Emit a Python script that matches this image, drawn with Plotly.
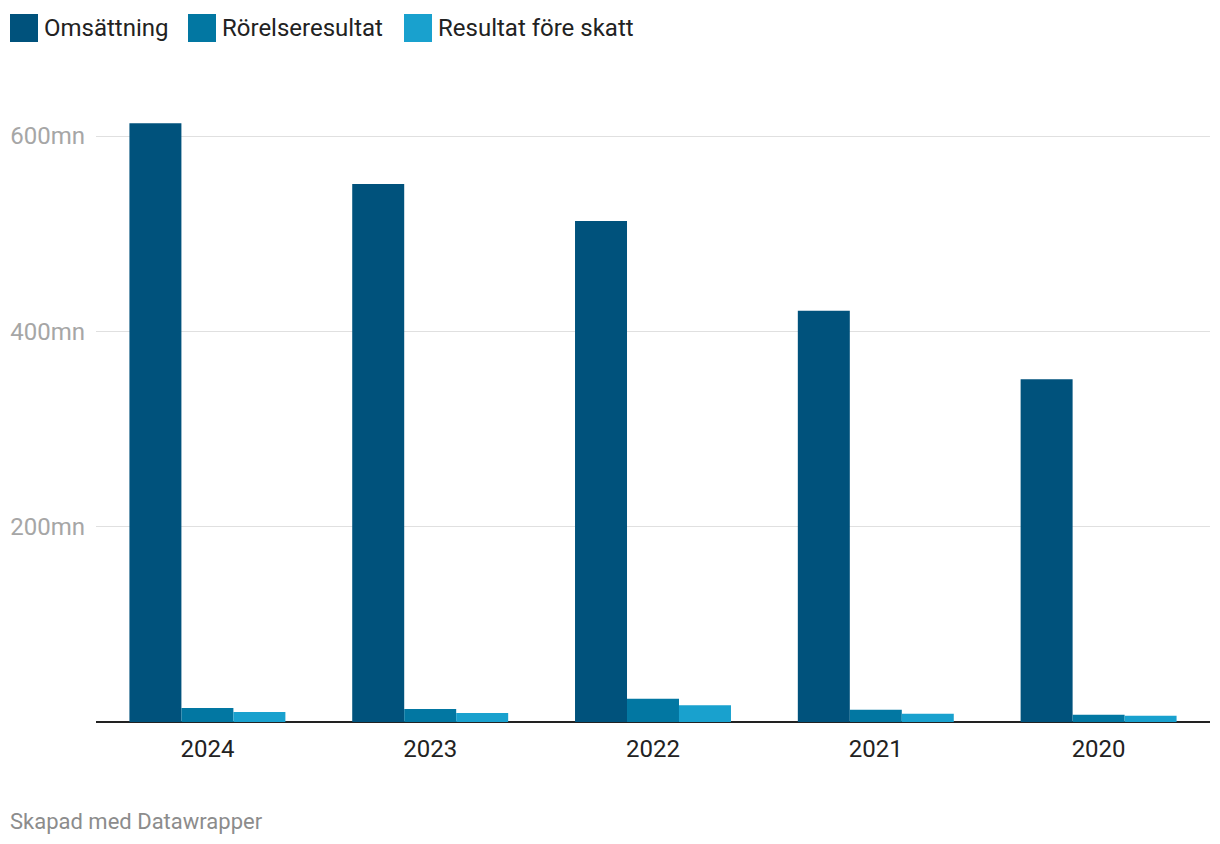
import plotly.graph_objects as go

years = ["2024", "2023", "2022", "2021", "2020"]
series_names = ["Omsättning", "Rörelseresultat", "Resultat före skatt"]
omsattning = [613, 551, 513, 421, 351]
rorelseresultat = [14.3, 13.3, 23.9, 12.6, 7.5]
resultat_fore_skatt = [10.2, 9.2, 17.1, 8.5, 6.5]
colors = ["#00527c", "#0277a2", "#19a1ce"]
y_ticks = [200, 400, 600]
y_tick_labels = ["200mn", "400mn", "600mn"]
footer = "Skapad med Datawrapper"

values = [omsattning, rorelseresultat, resultat_fore_skatt]

fig = go.Figure()
for name, vals, col in zip(series_names, values, colors):
    fig.add_trace(go.Bar(x=years, y=vals, name=name, marker=dict(color=col, line=dict(width=0)),
                         showlegend=False))

# manual legend (large square swatches like Datawrapper)
legend_x = [10, 188, 404]
for name, col, lx in zip(series_names, colors, legend_x):
    fig.add_shape(type="rect", xref="paper", yref="paper",
                  x0=(lx - 96) / 1114, x1=(lx + 28 - 96) / 1114,
                  y0=(722 - 42) / 625, y1=(722 - 14) / 625,
                  fillcolor=col, line=dict(width=0))
    fig.add_annotation(text=name, xref="paper", yref="paper",
                       x=(lx + 32 - 96) / 1114, y=(722 - 28) / 625,
                       xanchor="left", yanchor="middle", showarrow=False,
                       font=dict(family="Roboto", size=24, color="#222222"))

fig.add_annotation(text=footer, xref="paper", yref="paper",
                   x=(8 - 96) / 1114, y=(722 - 821) / 625,
                   xanchor="left", yanchor="middle", showarrow=False,
                   font=dict(family="Roboto", size=22, color="#8c8c8c"))

fig.update_layout(
    width=1220, height=844,
    margin=dict(l=88, r=18, t=89, b=130, autoexpand=False),
    plot_bgcolor="white", paper_bgcolor="white",
    barmode="group", bargap=0.30, bargroupgap=0,
    font=dict(family="Roboto"),
    xaxis=dict(type="category", showgrid=False, showline=False, ticks="",
               automargin=False, ticklabelstandoff=10,
               tickfont=dict(family="Roboto", size=24, color="#222222")),
    yaxis=dict(range=[0, 640], tickvals=y_ticks, ticktext=y_tick_labels,
               showgrid=True, gridcolor="#e0e0e0", gridwidth=1,
               zeroline=True, zerolinecolor="#222222", zerolinewidth=2,
               showline=False, ticks="", ticklabelstandoff=10, automargin=False,
               tickfont=dict(family="Roboto", size=24, color="#a6a6a6")),
)

fig.write_html("out.html")
